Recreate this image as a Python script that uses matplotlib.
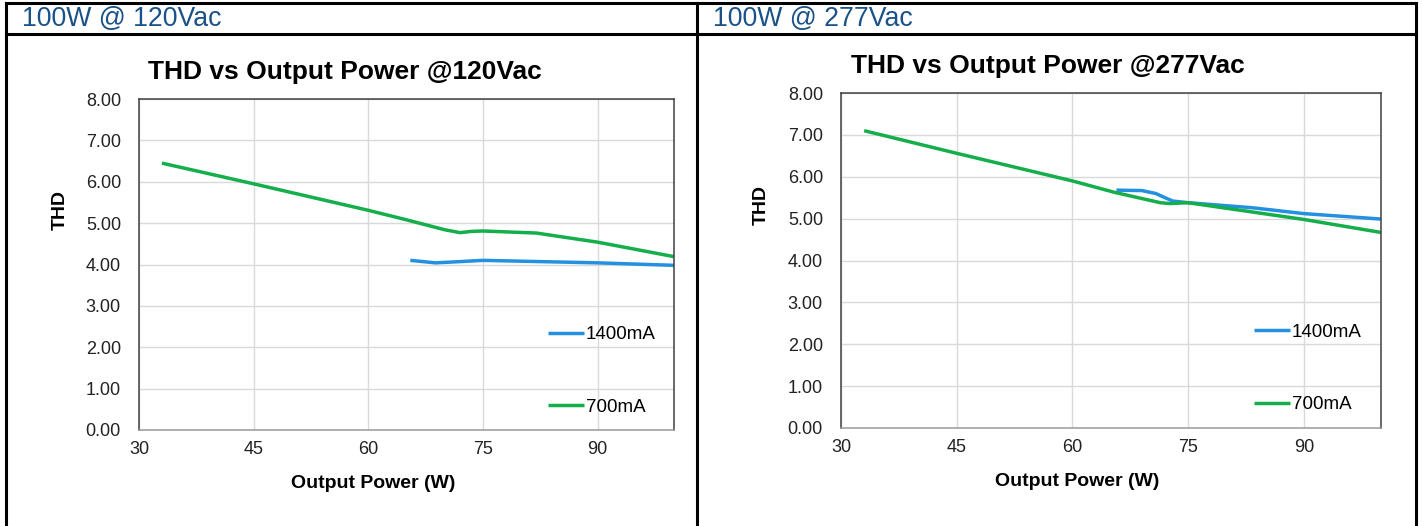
import matplotlib
matplotlib.use("Agg")
import matplotlib.pyplot as plt
from matplotlib.ticker import FormatStrFormatter

plt.rcParams["font.family"] = ["Liberation Sans", "DejaVu Sans"]

# THD (%) vs output power (W)
p120_1400 = [65.5, 68.8, 71.0, 75.0, 90.0, 100.0]
thd120_1400 = [4.10, 4.04, 4.06, 4.10, 4.04, 3.98]
p120_700 = [33.0, 45.0, 60.0, 65.0, 70.0, 72.0, 73.5, 75.0, 82.0, 90.0, 100.0]
thd120_700 = [6.45, 5.95, 5.31, 5.08, 4.84, 4.77, 4.80, 4.81, 4.76, 4.54, 4.19]

p277_1400 = [65.7, 69.0, 70.8, 72.0, 73.0, 75.0, 83.3, 90.0, 100.0]
thd277_1400 = [5.68, 5.67, 5.60, 5.50, 5.42, 5.38, 5.26, 5.12, 4.99]
p277_700 = [33.0, 45.0, 60.0, 65.4, 71.4, 72.6, 75.0, 90.0, 100.0]
thd277_700 = [7.10, 6.56, 5.90, 5.63, 5.38, 5.36, 5.38, 4.98, 4.67]

headers = ["100W @ 120Vac", "100W @ 277Vac"]
titles = ["THD vs Output Power @120Vac", "THD vs Output Power @277Vac"]
labels = ["1400mA", "700mA"]
x_ticks = [30, 45, 60, 75, 90]
y_ticks = [0, 1, 2, 3, 4, 5, 6, 7, 8]

BLUE = "#2490e0"
GREEN = "#14ae4b"
W, H = 1422, 526

fig = plt.figure(figsize=(W / 100, H / 100), dpi=100)

# table frame drawn in pixel coords on an overlay axes
frame = fig.add_axes([0, 0, 1, 1], zorder=-1)
frame.set_xlim(0, W); frame.set_ylim(H, 0); frame.axis("off")
lw = 2.2
frame.plot([6, 1416], [3, 3], color="black", lw=lw)
frame.plot([6, 1416], [34, 34], color="black", lw=lw)
for xv in (6, 697, 1416):
    frame.plot([xv, xv], [3, H], color="black", lw=lw)
frame.text(22, 19, headers[0], fontsize=19.2, color="#1a5288", va="center")
frame.text(713, 19, headers[1], fontsize=19.2, color="#1a5288", va="center")


def px_rect(l, t, r, b):
    return [l / W, 1 - b / H, (r - l) / W, (b - t) / H]


panels = [
    (px_rect(139, 99, 674, 430), p120_1400, thd120_1400, p120_700, thd120_700, 345, 72),
    (px_rect(841, 93, 1381, 428), p277_1400, thd277_1400, p277_700, thd277_700, 1048, 66),
]

for i, (rect, pb, tb, pg, tg, tx, ty) in enumerate(panels):
    ax = fig.add_axes(rect)
    ax.plot(pb, tb, color=BLUE, lw=2.5, label=labels[0], solid_capstyle="butt")
    ax.plot(pg, tg, color=GREEN, lw=2.5, label=labels[1], solid_capstyle="butt")
    ax.set_xlim(30, 100)
    ax.set_ylim(0, 8)
    ax.set_xticks(x_ticks)
    ax.set_yticks(y_ticks)
    ax.yaxis.set_major_formatter(FormatStrFormatter("%.2f"))
    ax.tick_params(length=0, labelsize=13, colors="#222222")
    ax.tick_params(axis="x", pad=8)
    ax.tick_params(axis="y", pad=13)
    ax.grid(True, color="#d9d9d9", lw=1)
    ax.set_axisbelow(True)
    for side in ("left", "top", "right"):
        ax.spines[side].set_color("#404040")
        ax.spines[side].set_linewidth(1.1)
    ax.spines["bottom"].set_color("#9a9a9a")
    ax.spines["bottom"].set_linewidth(1.1)
    ax.set_xlabel("Output Power (W)", fontsize=14, fontweight="bold", labelpad=12)
    ax.xaxis.set_label_coords(0.437, -0.135)
    ax.set_ylabel("THD", fontsize=14, fontweight="bold")
    ax.yaxis.set_label_coords(-0.132, 0.665)
    ax.legend(loc="center left", bbox_to_anchor=(0.765, 0.178), frameon=False,
              fontsize=13.5, handlelength=1.9, handletextpad=0.1,
              labelspacing=2.95, borderpad=0, borderaxespad=0)
    frame.text(tx, ty, titles[i], fontsize=19, fontweight="bold",
               ha="center", va="center")

fig.savefig("out.png", dpi=100)
